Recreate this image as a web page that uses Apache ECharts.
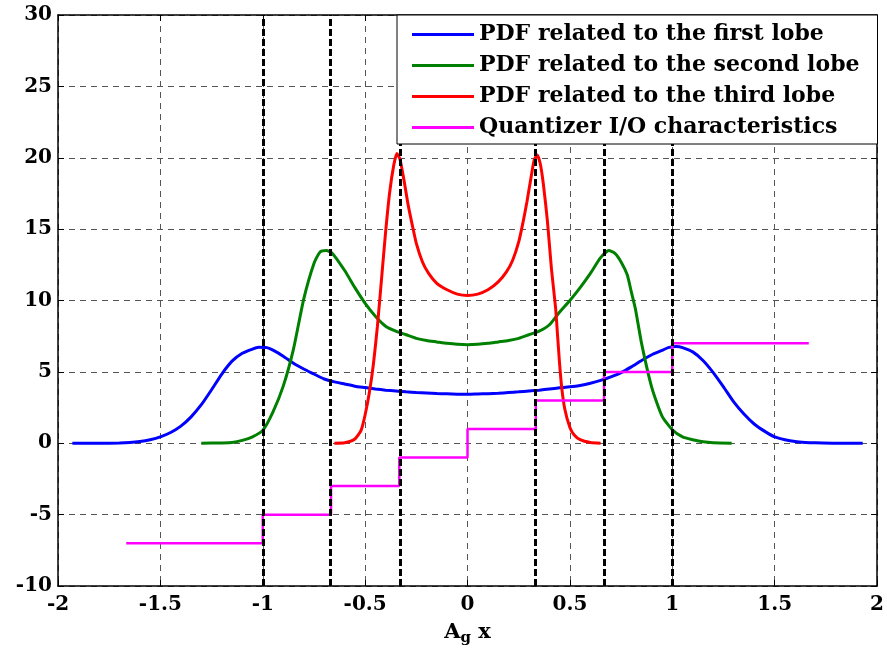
<!DOCTYPE html>
<html>
<head>
<meta charset="utf-8">
<script src="https://cdn.jsdelivr.net/npm/echarts@6/dist/echarts.min.js"></script>
<style>
html,body{margin:0;padding:0;background:#fff;}
#c{width:887px;height:653px;}
</style>
</head>
<body>
<div id="c"></div>
<script>
// ---- data ----
const xTicks = [-2, -1.5, -1, -0.5, 0, 0.5, 1, 1.5, 2];
const yTicks = [-10, -5, 0, 5, 10, 15, 20, 25, 30];

const seriesNames = [
  'PDF related to the first lobe',
  'PDF related to the second lobe',
  'PDF related to the third lobe',
  'Quantizer I/O characteristics'
];

const blueX = [-1.93,-1.8,-1.7,-1.65,-1.6,-1.55,-1.5,-1.45,-1.4,-1.35,-1.3,-1.25,-1.2,-1.15,-1.1,-1.05,-1.02,-0.98,-0.95,-0.9,-0.85,-0.8,-0.75,-0.7,-0.65,-0.6,-0.55,-0.5,-0.45,-0.4,-0.35,-0.3,-0.25,-0.2,-0.15,-0.1,-0.05,0,
  0.05,0.1,0.15,0.2,0.25,0.3,0.35,0.4,0.45,0.5,0.55,0.6,0.65,0.7,0.75,0.8,0.85,0.9,0.95,0.98,1.02,1.05,1.1,1.15,1.2,1.25,1.3,1.35,1.4,1.45,1.5,1.55,1.6,1.65,1.7,1.8,1.93];
const blueY = [0,0,0.02,0.05,0.12,0.25,0.45,0.75,1.2,1.85,2.7,3.75,4.85,5.75,6.3,6.6,6.72,6.7,6.52,6.1,5.6,5.2,4.85,4.5,4.3,4.15,4.0,3.9,3.8,3.72,3.66,3.6,3.55,3.52,3.48,3.46,3.44,3.43,
  3.45,3.47,3.5,3.55,3.6,3.66,3.72,3.8,3.88,3.95,4.05,4.2,4.4,4.65,4.95,5.35,5.8,6.2,6.5,6.7,6.78,6.7,6.4,5.8,4.95,3.95,2.9,2.05,1.35,0.85,0.45,0.25,0.12,0.06,0.03,0,0];

const greenX = [-1.3,-1.2,-1.15,-1.1,-1.05,-1.0,-0.95,-0.9,-0.85,-0.8,-0.75,-0.72,-0.69,-0.66,-0.6,-0.55,-0.5,-0.45,-0.4,-0.35,-0.3,-0.25,-0.2,-0.15,-0.1,-0.05,0,
  0.05,0.1,0.15,0.2,0.25,0.3,0.35,0.4,0.45,0.5,0.55,0.6,0.65,0.69,0.72,0.75,0.78,0.8,0.82,0.85,0.9,0.95,1.0,1.05,1.1,1.15,1.2,1.29];
const greenY = [0,0.02,0.05,0.2,0.45,0.9,2.2,4.0,6.6,10.1,12.6,13.4,13.5,13.3,12.1,10.9,9.8,8.9,8.2,7.85,7.6,7.35,7.2,7.1,7.0,6.93,6.9,
  6.93,7.0,7.1,7.2,7.35,7.6,7.85,8.3,9.2,10.0,10.9,11.9,13.0,13.5,13.3,12.7,11.8,10.6,9.4,7.0,3.9,1.9,0.95,0.45,0.25,0.1,0.03,0];

const redX = [-0.65,-0.6,-0.55,-0.52,-0.5,-0.48,-0.46,-0.44,-0.42,-0.4,-0.38,-0.36,-0.345,-0.33,-0.31,-0.29,-0.27,-0.25,-0.22,-0.19,-0.15,-0.1,-0.05,0,
  0.05,0.1,0.15,0.19,0.22,0.25,0.27,0.29,0.31,0.325,0.34,0.355,0.37,0.39,0.41,0.43,0.44,0.45,0.46,0.475,0.5,0.52,0.55,0.6,0.65];
const redY = [0,0.03,0.3,0.9,2.0,3.5,5.5,8.2,11.5,14.8,17.6,19.5,20.3,19.9,18.4,16.7,15.3,14.0,12.7,11.9,11.2,10.75,10.45,10.35,
  10.45,10.75,11.3,12.0,12.8,14.1,15.4,16.9,18.6,19.8,20.2,19.6,18.2,15.6,12.2,9.5,7.5,5.5,3.9,2.4,1.1,0.6,0.25,0.05,0];

const stepEdges = [-5/3, -1, -2/3, -1/3, 0, 1/3, 2/3, 1, 5/3];
const stepLevels = [-7, -5, -3, -1, 1, 3, 5, 7];

const thresholds = [-1, -2/3, -1/3, 1/3, 2/3, 1];

const colors = ['#0000ff', '#008000', '#ff0000', '#ff00ff'];

// ---- build ----
const zip = (xs, ys) => xs.map((x, i) => [x, ys[i]]);
const stairs = [];
stepLevels.forEach((lv, i) => { stairs.push([stepEdges[i], lv]); stairs.push([stepEdges[i + 1], lv]); });

const FONT = 'DejaVu Serif';
const chart = echarts.init(document.getElementById('c'), null, {renderer: 'canvas'});

const gridLine = {show: true, lineStyle: {color: '#555', width: 1, type: [6, 5]}};
const baseX = {
  type: 'value', min: xTicks[0], max: xTicks[xTicks.length - 1], interval: xTicks[1] - xTicks[0],
  axisLine: {show: true, onZero: false, lineStyle: {color: '#000', width: 1.5}},
  axisTick: {show: true, inside: true, length: 6, lineStyle: {color: '#000'}},
};
const baseY = {
  type: 'value', min: yTicks[0], max: yTicks[yTicks.length - 1], interval: yTicks[1] - yTicks[0],
  axisLine: {show: true, onZero: false, lineStyle: {color: '#000', width: 1.5}},
  axisTick: {show: true, inside: true, length: 6, lineStyle: {color: '#000'}},
};

const lineSeries = (name, data, color, w) => ({
  name, type: 'line', data, showSymbol: false, symbol: 'none', smooth: 0.2,
  lineStyle: {color, width: w}, itemStyle: {color}, animation: false, z: 3
});

chart.setOption({
  animation: false,
  backgroundColor: '#fff',
  color: colors,
  grid: {left: 58, right: 7, top: 15, bottom: 67, containLabel: false},
  xAxis: [
    Object.assign({}, baseX, {
      position: 'bottom',
      splitLine: gridLine,
      axisLabel: {color: '#000', fontFamily: FONT, fontWeight: 'bold', fontSize: 20, margin: 9},
      name: '{a|A}{s|g}{a| x}', nameLocation: 'middle', nameGap: 33,
      nameTextStyle: {rich: {
        a: {fontFamily: FONT, fontWeight: 'bold', fontSize: 21, color: '#000'},
        s: {fontFamily: FONT, fontWeight: 'bold', fontSize: 15, color: '#000', padding: [12, 0, 0, 0]}
      }}
    }),
    Object.assign({}, baseX, {position: 'top', splitLine: {show: false}, axisLabel: {show: false}})
  ],
  yAxis: [
    Object.assign({}, baseY, {
      position: 'left',
      splitLine: gridLine,
      axisLabel: {color: '#000', fontFamily: FONT, fontWeight: 'bold', fontSize: 20, margin: 6}
    }),
    Object.assign({}, baseY, {position: 'right', splitLine: {show: false}, axisLabel: {show: false}})
  ],
  legend: {
    data: seriesNames, z: 20,
    orient: 'vertical', left: 397, top: 15,
    padding: [8, 18, 5, 15],
    backgroundColor: '#fff', borderColor: '#000', borderWidth: 1, borderRadius: 0,
    icon: 'rect', itemWidth: 62, itemHeight: 3, itemGap: 8,
    textStyle: {fontFamily: FONT, fontWeight: 'bold', fontSize: 22, color: '#000', lineHeight: 23}
  },
  series: [
    lineSeries(seriesNames[0], zip(blueX, blueY), colors[0], 3),
    lineSeries(seriesNames[1], zip(greenX, greenY), colors[1], 3),
    lineSeries(seriesNames[2], zip(redX, redY), colors[2], 3),
    Object.assign(lineSeries(seriesNames[3], stairs, colors[3], 2.5), {smooth: false}),
    {
      name: 'thresholds', type: 'line', data: [], z: 5, silent: true,
      markLine: {
        silent: true, symbol: ['none', 'none'], animation: false,
        label: {show: false},
        lineStyle: {color: '#000', width: 3, type: [7, 3]},
        emphasis: {disabled: true},
        data: thresholds.map(t => ({xAxis: t}))
      }
    }
  ]
});
</script>
</body>
</html>
